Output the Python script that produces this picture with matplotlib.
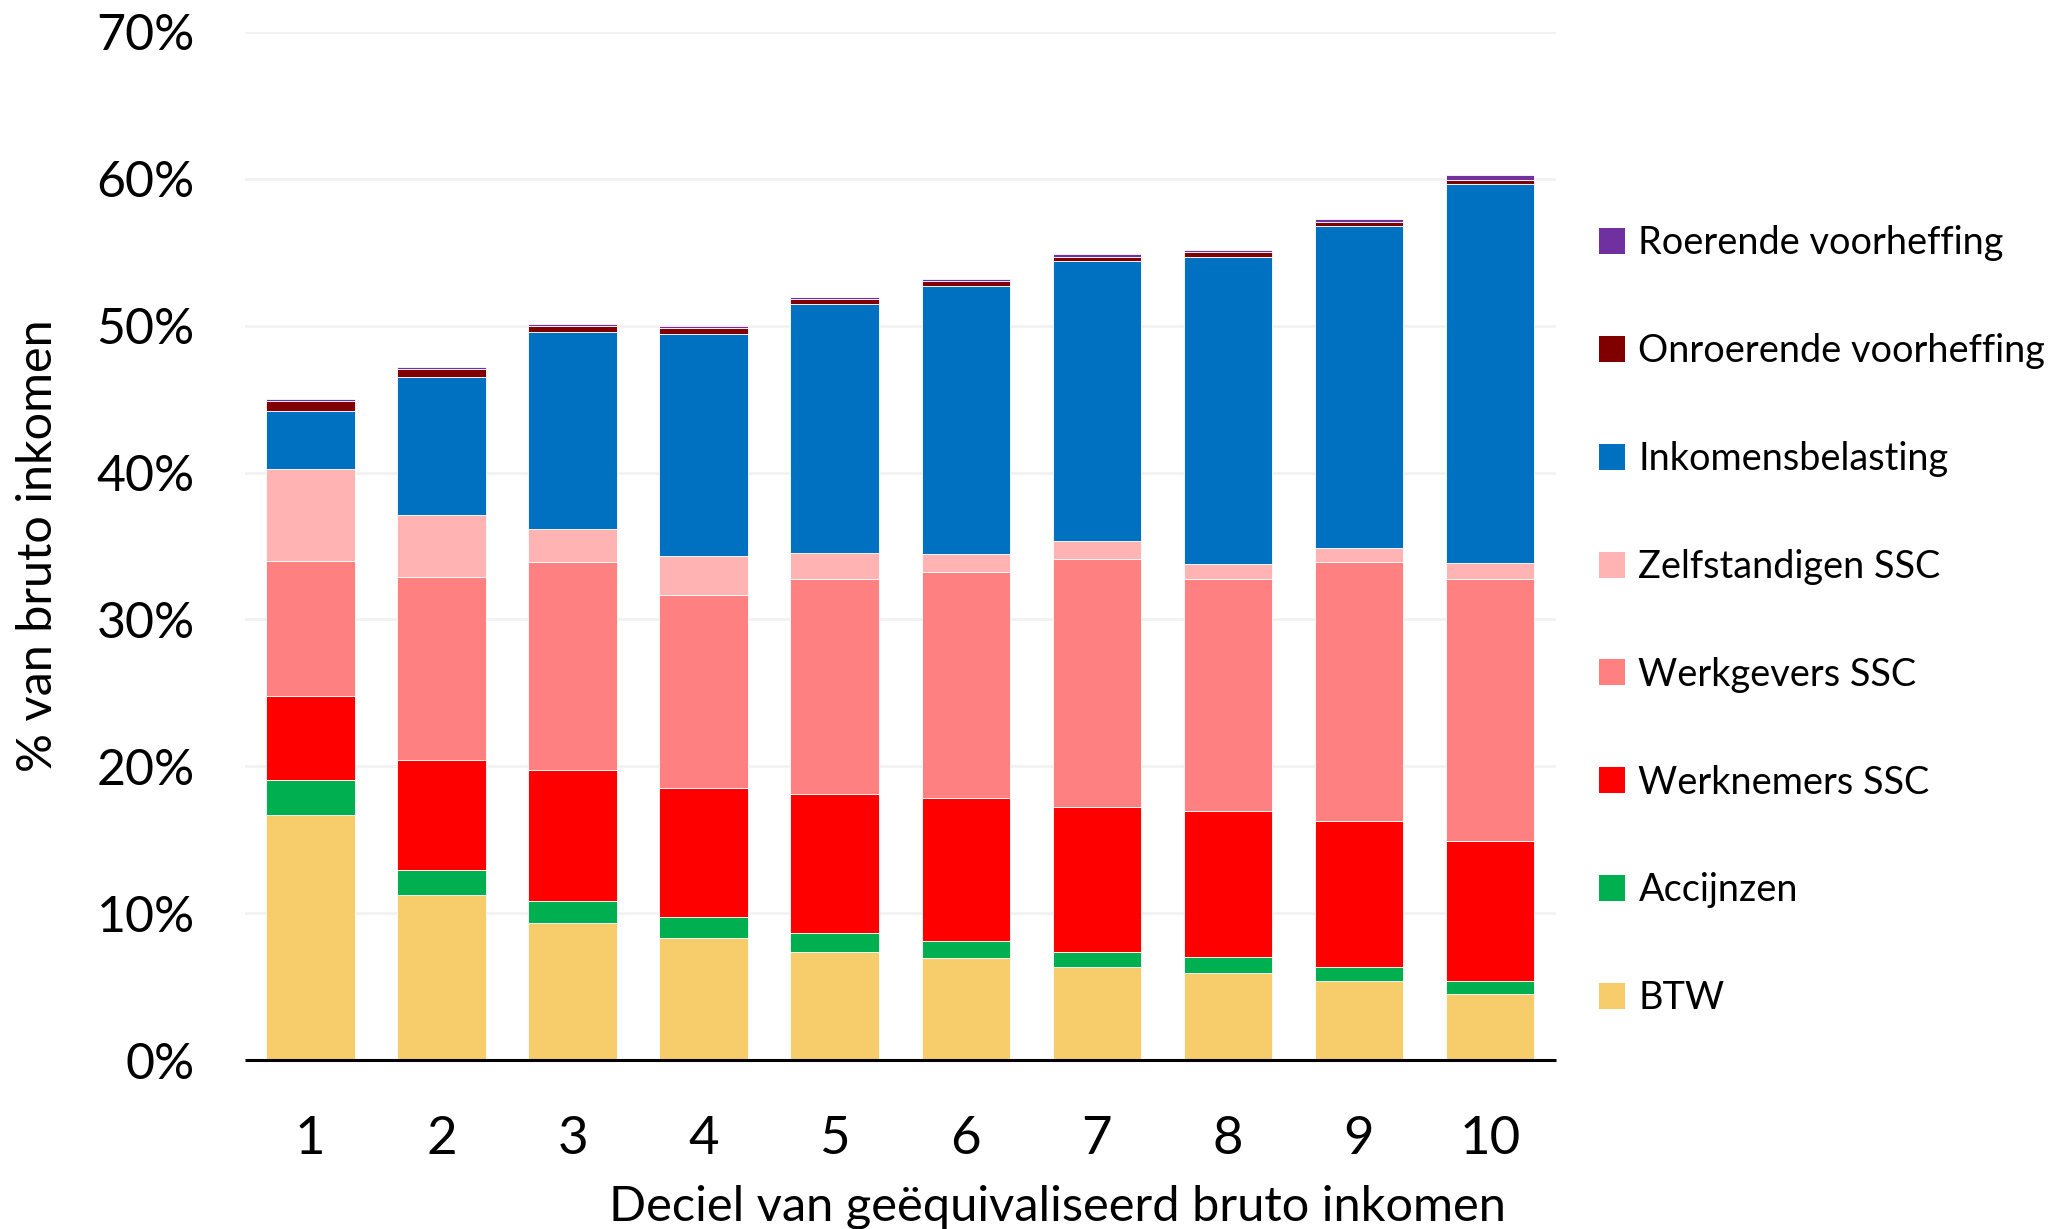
import matplotlib
matplotlib.use("Agg")
import matplotlib.pyplot as plt
import numpy as np
from matplotlib.patches import Patch
from matplotlib.ticker import FuncFormatter, MultipleLocator

plt.rcParams['font.family'] = ['Lato', 'DejaVu Sans']

deciles = ["1", "2", "3", "4", "5", "6", "7", "8", "9", "10"]

btw = [16.68, 11.25, 9.33, 8.33, 7.37, 6.94, 6.33, 5.94, 5.36, 4.47]
accijnzen = [2.38, 1.68, 1.49, 1.40, 1.25, 1.18, 1.04, 1.05, 0.97, 0.89]
werknemers = [5.75, 7.53, 8.94, 8.77, 9.46, 9.75, 9.88, 9.98, 9.96, 9.57]
werkgevers = [9.14, 12.44, 14.12, 13.13, 14.67, 15.33, 16.88, 15.80, 17.63, 17.84]
zelfstandigen = [6.30, 4.24, 2.31, 2.66, 1.77, 1.27, 1.24, 0.99, 0.91, 1.04]
inkomensbelasting = [3.97, 9.39, 13.38, 15.17, 16.96, 18.25, 19.01, 20.95, 21.94, 25.87]
onroerende = [0.64, 0.50, 0.43, 0.38, 0.32, 0.32, 0.31, 0.29, 0.30, 0.27]
roerende = [0.15, 0.14, 0.12, 0.14, 0.15, 0.14, 0.19, 0.14, 0.18, 0.29]

series_names = ["BTW", "Accijnzen", "Werknemers SSC", "Werkgevers SSC",
                "Zelfstandigen SSC", "Inkomensbelasting",
                "Onroerende voorheffing", "Roerende voorheffing"]
series_values = [btw, accijnzen, werknemers, werkgevers, zelfstandigen,
                 inkomensbelasting, onroerende, roerende]
colors = ["#F6CD6A", "#00B050", "#FF0000", "#FF8080", "#FFB3B3",
          "#0070C0", "#800000", "#7030A0"]

fig = plt.figure(figsize=(20.65, 12.29), dpi=100)
ax = fig.add_axes([0.1186, 0.1375, 0.6347, 0.8365])

x = np.arange(1, len(deciles) + 1)
bottom = np.zeros(len(deciles))
for name, vals, col in zip(series_names, series_values, colors):
    v = np.array(vals)
    ax.bar(x, v, width=0.675, bottom=bottom, color=col, edgecolor="white",
           linewidth=0.6, label=name, zorder=3)
    bottom += v

ax.set_xlim(0.5, 10.5)
ax.set_ylim(0, 70)
ax.yaxis.set_major_locator(MultipleLocator(10))
ax.yaxis.set_major_formatter(FuncFormatter(lambda v, p: f"{int(round(v))}%"))
ax.set_xticks(x)
ax.set_xticklabels(deciles)
ax.grid(axis="y", color="#F2F2F2", linewidth=2, zorder=0)
ax.set_axisbelow(True)
for s in ["top", "right", "left"]:
    ax.spines[s].set_visible(False)
ax.spines["bottom"].set_linewidth(2.2)
ax.spines["bottom"].set_color("black")
ax.spines["bottom"].set_capstyle("butt")
ax.spines["bottom"].set_zorder(5)
ax.tick_params(axis="y", length=0, pad=36, labelsize=36)
ax.tick_params(axis="x", length=0, pad=40, labelsize=38)

ax.set_ylabel("% van bruto inkomen", fontsize=35, labelpad=26)
fig.text(0.512, 0.0, "Deciel van geëquivaliseerd bruto inkomen",
         ha="center", va="bottom", fontsize=35.1)

handles = [Patch(facecolor=c, edgecolor="none") for c in colors][::-1]
labels = series_names[::-1]
leg = fig.legend(handles, labels, loc="upper left",
                 bbox_to_anchor=(0.767, 0.829), frameon=False,
                 fontsize=27.3, handlelength=0.68, handleheight=0.68,
                 handletextpad=0.36, labelspacing=1.895, borderaxespad=0)

fig.savefig("out.png", dpi=100)
